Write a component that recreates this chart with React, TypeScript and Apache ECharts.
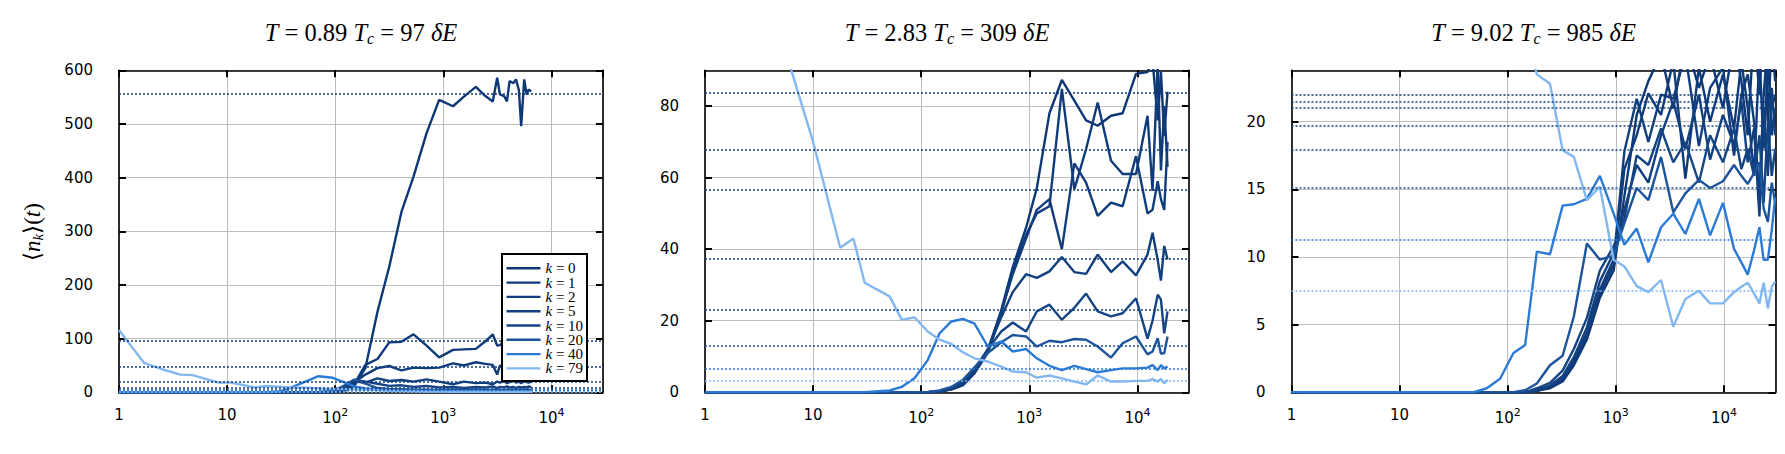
import React, { useEffect, useRef } from "react";
import * as echarts from "echarts";

// ---------- categories / styling keys ----------
const K_VALUES = ["0", "1", "2", "5", "10", "20", "40", "79"];
const K_COLORS = ["#0e3875", "#103b7a", "#113d7c", "#12407f", "#144483", "#1c539b", "#2a7ad6", "#82b7ef"];

// ---------- panel 1 : T = 0.89 Tc ----------
const P1_TIME = [1, 1.7, 2.5, 3.7, 4.8, 6.3, 8.4, 10.8, 14, 18, 23, 30, 38, 53, 70, 95, 120, 150, 190, 246, 316, 410, 530, 700, 915, 1230, 1550, 2000, 2450, 2870, 3150, 3340, 3650, 3880, 4100, 4450, 4700, 5000, 5250, 5600, 5900, 6150, 6500];
const P1_K0 = [0, 0, 0, 0, 0, 0, 0, 0, 0, 0, 0, 0, 0, 0, 0, 0, 2, 12, 45, 150, 234, 336, 402, 483, 545, 533, 551, 569, 552, 542, 586, 555, 552, 542, 580, 576, 583, 563, 496, 583, 555, 564, 561];
const P1_K1 = [0, 0, 0, 0, 0, 0, 0, 0, 0, 0, 0, 0, 0, 0, 0, 0, 2, 15, 51, 62, 93, 94, 108, 87, 65, 79, 80, 81, 95, 108, 87, 88, 95, 100, 92, 98, 90, 96, 85, 99, 93, 97, 95];
const P1_K2 = [0, 0, 0, 0, 0, 0, 0, 0, 0, 0, 0, 0, 0, 0, 0, 0, 3, 18, 33, 45, 49, 41, 46, 45, 46, 54, 50, 56, 53, 51, 33, 50, 46, 50, 44, 49, 52, 45, 48, 50, 46, 49, 48];
const P1_K5 = [0, 0, 0, 0, 0, 0, 0, 0, 0, 0, 0, 0, 0, 0, 0, 1, 6, 20, 18, 26, 21, 23, 20, 24, 20, 15, 20, 17, 18, 15, 20, 18, 21, 17, 19, 22, 18, 20, 17, 21, 19, 18, 20];
const P1_K10 = [0, 0, 0, 0, 0, 0, 0, 0, 0, 0, 0, 0, 0, 0, 0, 1, 8, 22, 20, 16, 12, 13, 10, 12, 9, 10, 8, 10, 9, 11, 8, 10, 9, 11, 9, 10, 8, 10, 9, 10, 9, 11, 9];
const P1_K20 = [0, 0, 0, 0, 0, 0, 0, 0, 0, 0, 0, 0, 0, 0, 0, 2, 12, 24, 16, 8, 6, 6, 5, 5, 4, 5, 4.2, 5.5, 4, 4.8, 5.3, 4.1, 4.6, 5, 3.9, 4.7, 5.2, 4.3, 4.9, 4.4, 5.1, 4.2, 4.6];
const P1_K40 = [0, 0, 0, 0, 0, 0, 0, 0, 0, 0, 0, 1, 8, 20, 30, 27, 19, 11, 7, 5, 4, 3.5, 3, 2.5, 2.5, 2.2, 2, 2.3, 1.9, 2.1, 2, 2.2, 1.8, 2.1, 2, 2.3, 1.9, 2.1, 2, 2.2, 1.9, 2.1, 2];
const P1_K79 = [116, 55, 43, 33, 32, 25, 18, 18, 13.6, 9, 11.7, 10.5, 9, 8.6, 7.4, 6, 6, 5.5, 5, 4, 3, 2.4, 2, 1.5, 1.2, 1, 1.3, 0.9, 1.1, 1, 1.2, 0.8, 1, 1.1, 0.9, 1, 1.2, 0.9, 1, 1.1, 0.8, 1, 0.9];
const P1_EQ = [557, 96, 48, 19, 9.2, 4.4, 2.0, 0.8];

// ---------- panel 2 : T = 2.83 Tc ----------
const P2_TIME = [1, 1.8, 3.2, 5.6, 10, 17.8, 23.6, 30, 51, 66, 87, 115, 148, 190, 243, 311, 413, 550, 703, 933, 1172, 1535, 2000, 2610, 3350, 4290, 5700, 7300, 9700, 12400, 13800, 15400, 16500, 17700, 19000];
const P2_K0 = [0, 0, 0, 0, 0, 0, 0, 0, 0, 0, 0, 0, 0.2, 0.8, 2, 5.5, 11.5, 23, 35, 46, 57, 78, 87.3, 81.5, 76, 74.5, 77.3, 78, 89, 89.5, 93, 76, 89.5, 71.7, 84];
const P2_K1 = [0, 0, 0, 0, 0, 0, 0, 0, 0, 0, 0, 0, 0.2, 0.8, 2, 5.3, 11, 22, 34, 44, 50, 52, 84.8, 56.7, 68, 81, 64.7, 61, 61, 77.3, 56.3, 92, 62, 80, 63];
const P2_K2 = [0, 0, 0, 0, 0, 0, 0, 0, 0, 0, 0, 0, 0.2, 0.9, 2.2, 5.8, 12, 22.5, 33, 43, 51, 54, 40, 64, 58.6, 49.3, 53, 52, 66, 50, 51, 59, 54, 51, 70];
const P2_K5 = [0, 0, 0, 0, 0, 0, 0, 0, 0, 0, 0, 0, 0.3, 1, 2.5, 6, 12, 21, 28, 33, 32, 33.8, 37.8, 33.6, 33.1, 38.5, 33.6, 36.6, 32.7, 38.5, 44.6, 37, 31.2, 40.9, 37.1];
const P2_K10 = [0, 0, 0, 0, 0, 0, 0, 0, 0, 0, 0, 0, 0.4, 1.2, 3, 6.5, 12, 17, 19.5, 17, 22.6, 24.5, 20.3, 23.6, 27.6, 22.6, 21.2, 22.1, 26.3, 15, 20, 27.3, 25.9, 16.5, 22.6];
const P2_K20 = [0, 0, 0, 0, 0, 0, 0, 0, 0, 0, 0, 0, 0.5, 1.5, 3.5, 7, 11, 14, 16, 15.6, 12.8, 14.4, 14, 14.9, 14.7, 12.8, 9.7, 13.7, 15.6, 10.6, 11.4, 15.1, 10.8, 10.9, 15.6];
const P2_K40 = [0, 0, 0, 0, 0, 0, 0, 0, 0.5, 1.5, 4, 9, 16.5, 19.8, 20.5, 19.2, 12.8, 14.2, 11.4, 12.1, 9.5, 7.4, 6.2, 7.4, 6.5, 5.6, 6.2, 6.7, 6.7, 6.9, 7.6, 6.2, 7.6, 6.7, 7.2];
const P2_K79 = [170, 145, 119, 95, 70, 40.4, 43, 30.6, 26.8, 20.3, 20.9, 17, 14.7, 13.5, 11.2, 9.5, 8.6, 7.2, 5.8, 5.6, 4.1, 4.7, 3.9, 3.0, 2.2, 4.7, 3.0, 3.0, 3.2, 3.2, 3.7, 3.0, 3.7, 2.5, 3.5];
const P2_EQ = [83.6, 67.7, 56.5, 37.2, 23.1, 13.0, 6.7, 3.3];

// ---------- panel 3 : T = 9.02 Tc ----------
const P3_TIME = [1, 10, 48, 64, 85, 113, 145, 186, 246, 322, 409, 540, 712, 955, 1200, 1560, 2000, 2620, 3400, 4400, 5870, 7450, 9800, 12400, 14500, 16600, 19000, 21300, 23300, 25500, 27700, 29800];
const P3_K0 = [0, 0, 0, 0, 0, 0, 0, 0.1, 0.3, 0.8, 2.0, 3.9, 7.0, 9.0, 14.5, 20.5, 23, 25, 21, 26, 22.5, 25, 21, 26, 23, 19, 27, 22, 28, 20, 26, 23];
const P3_K1 = [0, 0, 0, 0, 0, 0, 0, 0.1, 0.4, 0.9, 2.2, 4.2, 7.3, 9.4, 16.5, 19, 22.1, 20.5, 24.5, 15.8, 24, 20, 23.5, 19.5, 24.5, 21, 16, 25, 18, 24, 21, 22];
const P3_K2 = [0, 0, 0, 0, 0, 0, 0, 0.1, 0.4, 1.0, 2.3, 4.4, 7.6, 9.8, 17.8, 21.7, 18.5, 22, 21.7, 25, 18.2, 22.5, 24, 17.5, 22, 23.5, 20, 14.5, 22, 26, 19, 21];
const P3_K5 = [0, 0, 0, 0, 0, 0, 0, 0.2, 0.5, 1.2, 2.6, 4.8, 8.2, 10.3, 13.5, 16.8, 15.5, 19, 21.5, 18, 22, 17.2, 20.5, 18.3, 21.5, 17, 19.5, 13, 21, 16, 22.5, 19];
const P3_K10 = [0, 0, 0, 0, 0, 0, 0, 0.3, 0.7, 1.6, 3.2, 5.5, 9.0, 10.8, 12.8, 17.5, 16.8, 19.5, 17, 18.5, 15.5, 19, 17, 19.5, 16.5, 18, 16, 19, 14, 20, 16, 18];
const P3_K20 = [0, 0, 0, 0, 0, 0, 0.15, 0.65, 2.0, 2.7, 5.6, 11, 9.8, 10.1, 12.5, 15.1, 14.2, 17.4, 13.3, 14.7, 15.7, 15.1, 15.6, 16.8, 16, 15.4, 16.2, 17, 13.6, 12.6, 15.5, 14];
const P3_K40 = [0, 0, 0, 0.3, 1.0, 2.9, 3.5, 10.4, 10.2, 13.8, 13.9, 14.3, 16.0, 13.2, 10.9, 12.1, 9.6, 12.2, 13.2, 11.7, 14.3, 11.6, 14.0, 10.6, 9.6, 8.7, 10.5, 12.2, 9.8, 9.8, 12, 14.4];
const P3_K79 = [60, 45, 36, 34, 32, 30, 27, 23.5, 22.8, 17.9, 17.4, 14.2, 15.2, 9.8, 9.3, 7.85, 7.4, 8.3, 4.85, 6.9, 7.5, 6.57, 6.57, 7.4, 7.8, 8.1, 7.3, 6.57, 8.1, 6.2, 7.8, 8.2];
const P3_EQ = [22.0, 21.5, 21.0, 19.7, 17.9, 15.1, 11.3, 7.5];

// ---------- axes ----------
const X_MIN = 1;
const X_MAX = 30000;
const Y_MAX = [600, 90, 23.8];
const Y_INTERVAL = [100, 20, 5];
const TITLE_TEMPS = [["0.89", "97"], ["2.83", "309"], ["9.02", "985"]];

// ---------- layout ----------
const GRID_LEFT = [119, 705, 1291.5];
const GRID_TOP = 70.3;
const GRID_W = 484;
const GRID_H = 322;
const LEGEND_BOX = { x: 502, y: 254, w: 85, h: 127 };
const LEGEND_ROW = 14.3;
const SANS = "'DejaVu Sans', sans-serif";
const SERIF = "'Liberation Serif', serif";
const GRID_COLOR = "#bdbdbd";
const NB = "\u00a0";
const LINE_W = 2.4;
const TOP_Z = 100;

function buildOption() {
  const panels = [
    { time: P1_TIME, values: [P1_K0, P1_K1, P1_K2, P1_K5, P1_K10, P1_K20, P1_K40, P1_K79], eq: P1_EQ },
    { time: P2_TIME, values: [P2_K0, P2_K1, P2_K2, P2_K5, P2_K10, P2_K20, P2_K40, P2_K79], eq: P2_EQ },
    { time: P3_TIME, values: [P3_K0, P3_K1, P3_K2, P3_K5, P3_K10, P3_K20, P3_K40, P3_K79], eq: P3_EQ },
  ];
  const grids: any[] = [];
  const xAxes: any[] = [];
  const yAxes: any[] = [];
  const series: any[] = [];
  const graphics: any[] = [];

  const axisLine = { show: true, onZero: false, lineStyle: { color: "#000", width: 1.6 } };
  const axisTick = { show: true, inside: true, length: 7, lineStyle: { color: "#000", width: 2 } };

  panels.forEach((p, i) => {
    grids.push({ left: GRID_LEFT[i], top: GRID_TOP, width: GRID_W, height: GRID_H, containLabel: false, outerBoundsMode: "none", show: false });
    const xBase = { type: "log", logBase: 10, gridIndex: i, min: X_MIN, max: X_MAX, axisLine, axisTick, minorTick: { show: false }, minorSplitLine: { show: false } };
    xAxes.push({
      ...xBase,
      position: "bottom",
      splitLine: { show: true, lineStyle: { color: GRID_COLOR, width: 1 } },
      axisLabel: {
        show: true,
        margin: 15,
        color: "#000",
        fontFamily: SANS,
        fontSize: 15,
        showMaxLabel: false,
        formatter: (v: number) => {
          const e = Math.round(Math.log10(v));
          if (e === 0) return "1";
          if (e === 1) return "10";
          return `{b|10}{p|${e}}`;
        },
        rich: {
          b: { fontFamily: SANS, fontSize: 15, lineHeight: 21, color: "#000" },
          p: { fontFamily: SANS, fontSize: 11, lineHeight: 11, verticalAlign: "top", color: "#000" },
        },
      },
    });
    xAxes.push({ ...xBase, position: "top", splitLine: { show: false }, axisLabel: { show: false } });
    const yBase = { type: "value", gridIndex: i, min: 0, max: Y_MAX[i], interval: Y_INTERVAL[i], axisLine, axisTick, minorTick: { show: false } };
    yAxes.push({
      ...yBase,
      position: "left",
      splitLine: { show: true, lineStyle: { color: GRID_COLOR, width: 1 } },
      axisLabel: { show: true, margin: 26, color: "#000", fontFamily: SANS, fontSize: 15, showMaxLabel: i === 0 },
    });
    yAxes.push({ ...yBase, position: "right", splitLine: { show: false }, axisLabel: { show: false } });

    p.values.forEach((vals, j) => {
      const color = K_COLORS[j];
      series.push({
        type: "line",
        name: `k=${K_VALUES[j]}`,
        xAxisIndex: 2 * i,
        yAxisIndex: 2 * i,
        data: p.time.map((t, n) => [t, vals[n]]),
        symbol: "none",
        showSymbol: false,
        clip: true,
        z: 2,
        lineStyle: { color, width: LINE_W },
        itemStyle: { color },
        emphasis: { disabled: true },
        markLine: {
          silent: true,
          symbol: ["none", "none"],
          label: { show: false },
          emphasis: { disabled: true },
          lineStyle: { color, type: [2, 2], width: 1.5 },
          data: [{ yAxis: p.eq[j] }],
        },
      });
    });

    const cx = GRID_LEFT[i] + GRID_W / 2;
    graphics.push({
      type: "text",
      x: cx,
      y: 32,
      z: TOP_Z,
      style: {
        text: `{i|T}{n|${NB}=${NB}${TITLE_TEMPS[i][0]}${NB}}{i|T}{s|c}{n|${NB}=${NB}${TITLE_TEMPS[i][1]}${NB}}{i|δE}`,
        align: "center",
        verticalAlign: "middle",
        fill: "#000",
        rich: {
          i: { fontFamily: SERIF, fontStyle: "italic", fontSize: 24.5, lineHeight: 28, fill: "#000" },
          n: { fontFamily: SERIF, fontSize: 24.5, lineHeight: 28, fill: "#000" },
          s: { fontFamily: SERIF, fontStyle: "italic", fontSize: 16, lineHeight: 16, verticalAlign: "bottom", fill: "#000" },
        },
      },
    });
  });

  // y-axis name
  graphics.push({
    type: "text",
    x: 32,
    y: 232,
    z: TOP_Z,
    rotation: Math.PI / 2,
    style: {
      text: "{n|⟨}{i|n}{s|k}{n|⟩(}{i|t}{n|)}",
      align: "center",
      verticalAlign: "middle",
      fill: "#000",
      rich: {
        i: { fontFamily: SERIF, fontStyle: "italic", fontSize: 23, lineHeight: 27, fill: "#000" },
        n: { fontFamily: SERIF, fontSize: 23, lineHeight: 27, fill: "#000" },
        s: { fontFamily: SERIF, fontStyle: "italic", fontSize: 15, lineHeight: 15, verticalAlign: "bottom", fill: "#000" },
      },
    },
  });

  // legend box (panel 1)
  graphics.push({
    type: "rect",
    z: TOP_Z,
    shape: { x: LEGEND_BOX.x, y: LEGEND_BOX.y, width: LEGEND_BOX.w, height: LEGEND_BOX.h },
    style: { fill: "#fff", stroke: "#000", lineWidth: 2 },
  });
  K_VALUES.forEach((k, j) => {
    const cy = LEGEND_BOX.y + 14.3 + LEGEND_ROW * j;
    graphics.push({
      type: "line",
      z: TOP_Z + 1,
      shape: { x1: LEGEND_BOX.x + 4.5, y1: cy, x2: LEGEND_BOX.x + 38.5, y2: cy },
      style: { stroke: K_COLORS[j], lineWidth: LINE_W },
    });
    graphics.push({
      type: "text",
      z: TOP_Z + 1,
      x: LEGEND_BOX.x + 43.5,
      y: cy,
      style: {
        text: `{i|k}{n|${NB}=${NB}${k}}`,
        align: "left",
        verticalAlign: "middle",
        fill: "#000",
        rich: {
          i: { fontFamily: SERIF, fontStyle: "italic", fontSize: 15, fill: "#000" },
          n: { fontFamily: SERIF, fontSize: 15, fill: "#000" },
        },
      },
    });
  });

  return {
    animation: false,
    backgroundColor: "#fff",
    grid: grids,
    xAxis: xAxes,
    yAxis: yAxes,
    series,
    graphic: graphics,
  };
}

export default function App() {
  const ref = useRef<HTMLDivElement>(null);
  useEffect(() => {
    const chart = echarts.init(ref.current as HTMLDivElement, null, { renderer: "svg" });
    chart.setOption(buildOption() as any);
    return () => chart.dispose();
  }, []);
  return (
    <div
      ref={ref}
      style={{ position: "fixed", left: 0, top: 0, width: 1785, height: 454, background: "#fff" }}
    />
  );
}
